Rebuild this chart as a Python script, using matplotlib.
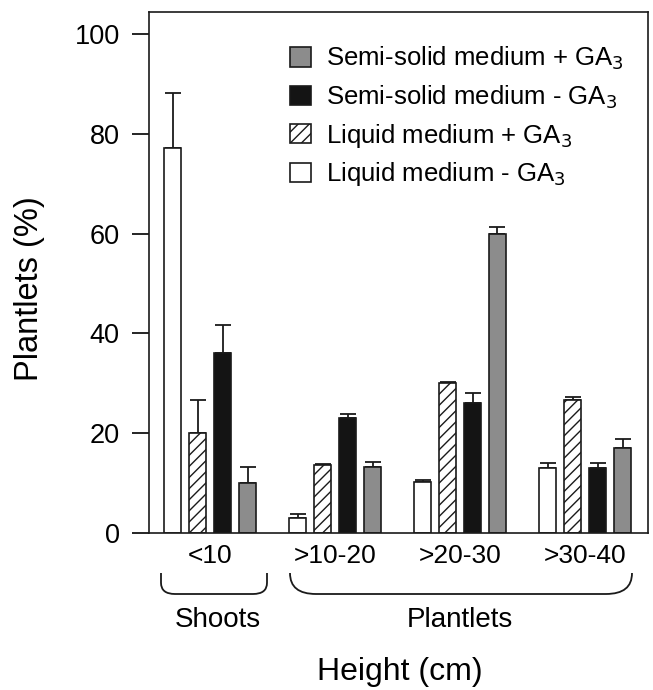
import matplotlib
matplotlib.use("Agg")
import matplotlib.pyplot as plt
import numpy as np
from matplotlib.path import Path
from matplotlib.patches import PathPatch, Patch
from matplotlib.transforms import Affine2D

plt.rcParams['font.family'] = ['Liberation Sans', 'DejaVu Sans']
plt.rcParams['hatch.linewidth'] = 1.0

categories = ['<10', '>10-20', '>20-30', '>30-40']
series_names = ['Liquid medium - GA$_3$', 'Liquid medium + GA$_3$',
                'Semi-solid medium - GA$_3$', 'Semi-solid medium + GA$_3$']
liquid_minus = [77.2, 3.0, 10.3, 13.0]
liquid_minus_err = [11.0, 0.8, 0.3, 1.0]
liquid_plus = [20.0, 13.6, 30.0, 26.6]
liquid_plus_err = [6.7, 0.2, 0.2, 0.7]
semi_minus = [36.1, 23.0, 26.0, 13.0]
semi_minus_err = [5.6, 0.8, 2.0, 1.0]
semi_plus = [10.0, 13.3, 60.0, 17.0]
semi_plus_err = [3.2, 1.0, 1.3, 1.8]
yticks = [0, 20, 40, 60, 80, 100]

W, H = 653, 690
fig = plt.figure(figsize=(W / 100, H / 100), dpi=100)
ax = fig.add_axes([149 / W, 1 - 533 / H, (648 - 149) / W, (533 - 12) / H])

x = np.arange(len(categories))
values = [liquid_minus, liquid_plus, semi_minus, semi_plus]
errs = [liquid_minus_err, liquid_plus_err, semi_minus_err, semi_plus_err]
faces = ['white', 'white', '#141414', '#8c8c8c']
hatches = [None, '///', None, None]
offsets = [-0.3, -0.1, 0.1, 0.3]
bw = 0.14

for v, e, fc, h, off in zip(values, errs, faces, hatches, offsets):
    ax.bar(x + off, v, width=bw, color=fc, edgecolor='#1a1a1a', linewidth=1.2,
           hatch=h, zorder=2)
    ax.errorbar(x + off, v, yerr=[np.zeros(len(v)), e], fmt='none',
                ecolor='#1a1a1a', elinewidth=1.3, capsize=6, capthick=1.3, zorder=1)

ax.set_xlim(-0.488, 3.504)
ax.set_ylim(0, 104.4)
ax.set_yticks(yticks)
ax.set_xticks(x)
ax.set_xticklabels(categories, fontsize=19)
ax.tick_params(axis='x', length=0, pad=8)
ax.tick_params(axis='y', direction='out', length=12, width=1.2, pad=9, labelsize=19.5)
for sp in ax.spines.values():
    sp.set_linewidth(1.2)
    sp.set_color('#1a1a1a')

# legend
order = [3, 2, 1, 0]
handles = [Patch(facecolor=faces[i], edgecolor='#1a1a1a', hatch=hatches[i], linewidth=1.2)
           for i in order]
labels = [series_names[i] for i in order]
leg = fig.legend(handles, labels, loc='upper left', bbox_to_anchor=(290 / W, 1 - 45 / H),
                 frameon=False, fontsize=18.5, handlelength=0.8, handleheight=0.8,
                 handletextpad=0.6, labelspacing=0.42, borderpad=0, borderaxespad=0)

# braces (decorations, pixel coordinates)
tr = Affine2D().scale(1 / W, -1 / H).translate(0, 1) + fig.transFigure

def brace(x0, x1, yt, yb, r):
    verts = [(x0, yt), (x0, yb - r * 0.8), (x0, yb), (x0 + r, yb),
             (x1 - r, yb), (x1, yb), (x1, yb - r * 0.8), (x1, yt)]
    codes = [Path.MOVETO, Path.LINETO, Path.CURVE3, Path.CURVE3,
             Path.LINETO, Path.CURVE3, Path.CURVE3, Path.LINETO]
    p = PathPatch(Path(verts, codes), transform=tr, facecolor='none',
                  edgecolor='#1a1a1a', linewidth=1.3, clip_on=False)
    fig.add_artist(p)

brace(161, 267, 573, 594, 14)
brace(290, 632, 573, 594, 26)

fig.text(218 / W, 1 - 620 / H, 'Shoots', ha='center', va='center', fontsize=20)
fig.text(460 / W, 1 - 620 / H, 'Plantlets', ha='center', va='center', fontsize=20)
fig.text(400 / W, 1 - 672 / H, 'Height (cm)', ha='center', va='center', fontsize=23)
fig.text(30 / W, 1 - 289 / H, 'Plantlets (%)', ha='center', va='center', fontsize=23.5,
         rotation=90)

fig.savefig('out.png', dpi=100)
